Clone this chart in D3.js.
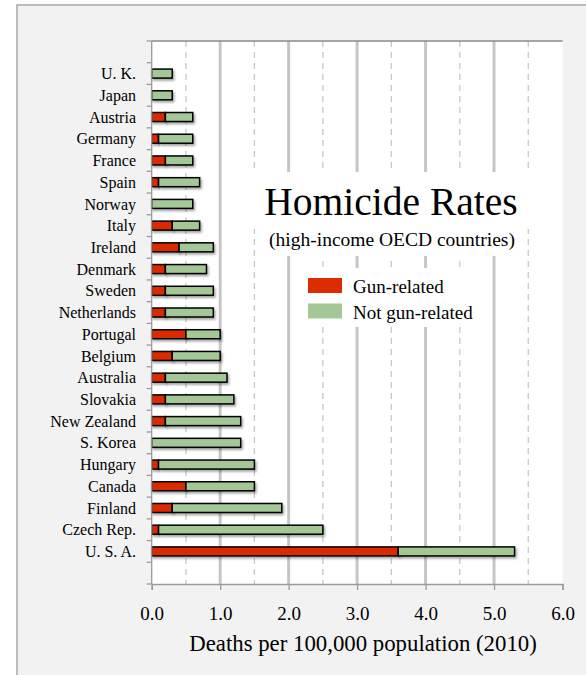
<!DOCTYPE html>
<html>
<head>
<meta charset="utf-8">
<script src="https://cdn.jsdelivr.net/npm/d3@7"></script>
<style>
  html, body { margin: 0; padding: 0; background: #fff; }
  text { font-family: "Liberation Serif", "Times New Roman", serif; fill: #000; }
</style>
</head>
<body>
<div id="content"></div>
<script>
// Data, top to bottom.
var countries = ['U. K.', 'Japan', 'Austria', 'Germany', 'France', 'Spain', 'Norway',
  'Italy', 'Ireland', 'Denmark', 'Sweden', 'Netherlands', 'Portugal', 'Belgium',
  'Australia', 'Slovakia', 'New Zealand', 'S. Korea', 'Hungary', 'Canada',
  'Finland', 'Czech Rep.', 'U. S. A.'];
var gunRelated = [0, 0, 0.2, 0.1, 0.2, 0.1, 0, 0.3, 0.4, 0.2, 0.2, 0.2, 0.5, 0.3,
  0.2, 0.2, 0.2, 0, 0.1, 0.5, 0.3, 0.1, 3.6];
var notGunRelated = [0.3, 0.3, 0.4, 0.5, 0.4, 0.6, 0.6, 0.4, 0.5, 0.6, 0.7, 0.7, 0.5, 0.7,
  0.9, 1.0, 1.1, 1.3, 1.4, 1.0, 1.6, 2.4, 1.7];
var xTicks = [0, 1, 2, 3, 4, 5, 6];
var seriesNames = ['Gun-related', 'Not gun-related'];
var colors = ['#dc2c00', '#a3c795'];

var W = 586, H = 675;
var plot = {left: 151.7, right: 562.5, top: 41, bottom: 584};

var svg = d3.select('#content').append('svg')
    .attr('width', W).attr('height', H);

// drop shadow for bars
var defs = svg.append('defs');
var f = defs.append('filter').attr('id', 'shadow')
    .attr('x', '-10%').attr('y', '-50%').attr('width', '130%').attr('height', '250%');
f.append('feDropShadow').attr('dx', 1.5).attr('dy', 2).attr('stdDeviation', 1.2)
    .attr('flood-color', '#000').attr('flood-opacity', 0.35);
var f2 = defs.append('filter').attr('id', 'edge')
    .attr('x', '-50%').attr('y', '-5%').attr('width', '300%').attr('height', '110%');
f2.append('feDropShadow').attr('dx', 1.5).attr('dy', 0).attr('stdDeviation', 1)
    .attr('flood-color', '#000').attr('flood-opacity', 0.3);

// outer panel
svg.append('rect')
    .attr('x', 17).attr('y', 5).attr('width', W).attr('height', H)
    .attr('fill', '#f2f2f2').attr('stroke', '#a8a8a8').attr('stroke-width', 1.5);

// scales
var x = d3.scaleLinear().domain([0, 6]).range([plot.left, plot.right]);
var y = d3.scaleBand().domain(countries).range([plot.top, plot.bottom])
    .paddingInner(0).paddingOuter(1);

// plot background
svg.append('rect')
    .attr('x', plot.left).attr('y', plot.top)
    .attr('width', plot.right - plot.left).attr('height', plot.bottom - plot.top)
    .attr('fill', '#fff');

// gridlines
var grid = svg.append('g');
grid.selectAll('line.major').data(d3.range(1, 6)).enter().append('line')
    .attr('x1', x).attr('x2', x)
    .attr('y1', plot.top).attr('y2', plot.bottom)
    .attr('stroke', '#c6c6c6').attr('stroke-width', 3);
grid.selectAll('line.minor').data(d3.range(0.5, 6, 1)).enter().append('line')
    .attr('x1', x).attr('x2', x)
    .attr('y1', plot.top).attr('y2', plot.bottom)
    .attr('stroke', '#c8c8c8').attr('stroke-width', 1.3)
    .attr('stroke-dasharray', '6,5');

// white boxes behind title and legend
svg.append('rect').attr('x', 253).attr('y', 172).attr('width', 276).attr('height', 57).attr('fill', '#fff');
svg.append('rect').attr('x', 262).attr('y', 228).attr('width', 258).attr('height', 28).attr('fill', '#fff');
svg.append('rect').attr('x', 300).attr('y', 268).attr('width', 186).attr('height', 59).attr('fill', '#fff');

// plot border
svg.append('line')
    .attr('x1', plot.left).attr('x2', plot.right).attr('y1', plot.top).attr('y2', plot.top)
    .attr('stroke', '#8a8a8a').attr('stroke-width', 1.5);
svg.append('line')
    .attr('x1', plot.right).attr('x2', plot.right).attr('y1', plot.top).attr('y2', plot.bottom)
    .attr('stroke', '#6e6e6e').attr('stroke-width', 2).attr('filter', 'url(#edge)');

// stacked bars
var rows = countries.map(function(c, i) {
  return {country: c, gun: gunRelated[i], other: notGunRelated[i]};
});
var stack = d3.stack().keys(['gun', 'other']);
var layers = stack(rows);
var barH = 9;

svg.append('g').selectAll('g').data(layers).enter().append('g')
    .attr('fill', function(d, i) { return colors[i]; })
  .selectAll('rect').data(function(d) { return d.filter(function(p) { return p[1] - p[0] > 0; }); })
  .enter().append('rect')
    .attr('x', function(d) { return x(d[0]); })
    .attr('width', function(d) { return x(d[1]) - x(d[0]); })
    .attr('y', function(d) { return y(d.data.country) + y.bandwidth() / 2 - barH / 2; })
    .attr('height', barH)
    .attr('stroke', '#000').attr('stroke-width', 1.5)
    .attr('filter', 'url(#shadow)');

// left axis line and ticks at row boundaries
var yAxis = svg.append('g').attr('stroke', '#9a9a9a').attr('stroke-width', 1.3);
yAxis.append('line')
    .attr('x1', plot.left).attr('x2', plot.left)
    .attr('y1', plot.top).attr('y2', plot.bottom);
yAxis.selectAll('line.t').data(d3.range(countries.length + 3)).enter().append('line')
    .attr('x1', plot.left - 5).attr('x2', plot.left)
    .attr('y1', function(i) { return plot.top + i * y.step(); })
    .attr('y2', function(i) { return plot.top + i * y.step(); });

// country labels
svg.append('g').selectAll('text').data(countries).enter().append('text')
    .attr('x', 136)
    .attr('y', function(d) { return y(d) + y.bandwidth() / 2; })
    .attr('dy', '0.35em')
    .attr('text-anchor', 'end')
    .attr('font-size', 16)
    .text(function(d) { return d; });

// x axis
var xAxis = svg.append('g')
    .attr('transform', 'translate(0,' + plot.bottom + ')')
    .call(d3.axisBottom(x).tickValues(xTicks).tickFormat(d3.format('.1f'))
      .tickSize(6).tickPadding(17));
xAxis.select('.domain').attr('stroke', '#9a9a9a').attr('stroke-width', 1.3);
xAxis.selectAll('.tick line').attr('stroke', '#9a9a9a').attr('stroke-width', 1.3);
xAxis.selectAll('.tick text')
    .attr('font-family', '"Liberation Serif", "Times New Roman", serif')
    .attr('font-size', 19).attr('fill', '#000');

svg.append('text')
    .attr('x', 363).attr('y', 651)
    .attr('text-anchor', 'middle')
    .attr('font-size', 22.8)
    .text('Deaths per 100,000 population (2010)');

// title
svg.append('text')
    .attr('x', 391).attr('y', 215)
    .attr('text-anchor', 'middle')
    .attr('font-size', 39.5)
    .text('Homicide Rates');
svg.append('text')
    .attr('x', 392).attr('y', 246)
    .attr('text-anchor', 'middle')
    .attr('font-size', 19.5)
    .text('(high-income OECD countries)');

// legend
var legend = svg.append('g').selectAll('g').data(seriesNames).enter().append('g')
    .attr('transform', function(d, i) { return 'translate(308,' + (278 + i * 25.5) + ')'; });
legend.append('rect')
    .attr('width', 34).attr('height', 15)
    .attr('fill', function(d, i) { return colors[i]; });
legend.append('text')
    .attr('x', 45).attr('y', 15)
    .attr('font-size', 19)
    .text(function(d) { return d; });
</script>
</body>
</html>
